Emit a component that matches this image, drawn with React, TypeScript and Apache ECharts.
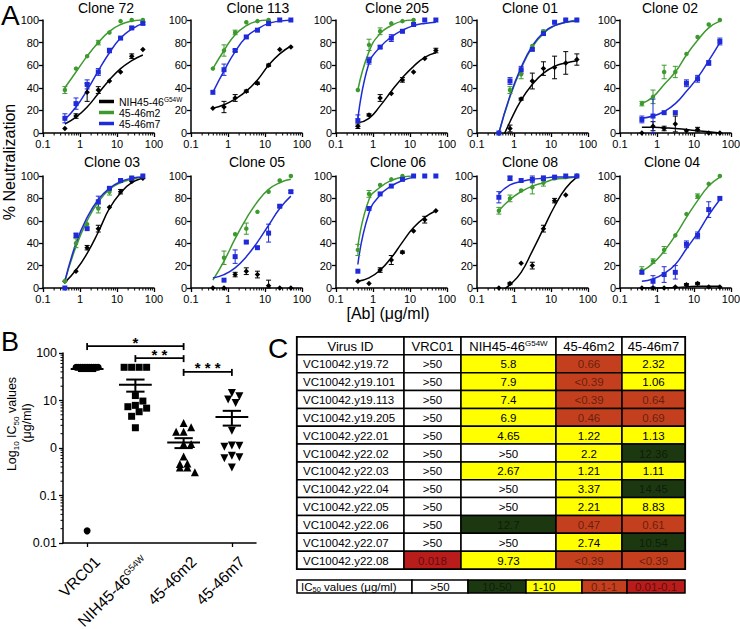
import React, { useEffect, useRef } from "react";
import * as echarts from "echarts";

const FONT = "'Liberation Sans', Arial, Helvetica, sans-serif";

// ---------------- Panel A data ----------------
const conc = [0.39, 0.78, 1.56, 3.125, 6.25, 12.5, 25, 50];
const antibodies = ["NIH45-46G54W", "45-46m2", "45-46m7"];
const cloneTitles = ["Clone 72", "Clone 113", "Clone 205", "Clone 01", "Clone 02", "Clone 03", "Clone 05", "Clone 06", "Clone 08", "Clone 04"];
const xTickLabels = ["0.1", "1", "10", "100"];

// each clone: [NIH45-46G54W, 45-46m2, 45-46m7]
const c72Pts = [[4, 15, 36, 38, 46, 54, 68, 74], [38, 57, 68, 80, 89, 99, 100, 100], [13, 26, 43, 54, 73, 84, 93, 97]];
const c72Err = [[0, 2, 8, 3, 0, 0, 2, 0], [3, 0, 0, 2, 0, 0, 0, 0], [4, 5, 4, 3, 2, 1, 1, 1]];
const c72Fit = [[8, 14, 23, 35, 47, 57, 64, 69], [40, 54, 68, 80, 90, 96, 99, 100], [12, 23, 38, 55, 71, 84, 92, 97]];

const c113Pts = [[22, 23, 31, 37, 44, 60, 74, 76], [57, 73, 89, 98, 99, 100, null, null], [36, 56, 73, 85, 91, 97, 100, 100]];
const c113Err = [[0, 5, 3, 1, 1, 1, 0, 0], [0, 5, 2, 0, 0, 0, 0, 0], [0, 5, 1, 1, 1, 2, 0, 0]];
const c113Fit = [[22, 25, 30, 37, 47, 60, 70, 77], [57, 73, 87, 95, 99, 100, null, null], [36, 55, 72, 85, 92, 97, 99, 100]];

const c205Pts = [[6, 16, 31, 35, 47, 54, 66, 73], [38, 78, 90, 97, 99, 100, null, null], [11, 64, 76, 84, 90, 96, 100, 100]];
const c205Err = [[2, 1, 3, 0, 2, 0, 0, 2], [0, 5, 3, 0, 0, 0, 0, 0], [5, 3, 1, 3, 1, 1, 0, 0]];
const c205Fit = [[9, 13, 24, 37, 49, 59, 67, 71], [38, 72, 88, 95, 99, 100, null, null], [12, 62, 76, 85, 91, 95, 97, 98]];

const c01Pts = [[0, 4, 30, 46, 57, 58, 62, 65], [0, 38, 52, 77, 90, 98, 100, 100], [0, 46, 56, 74, 88, 98, 100, 100]];
const c01Err = [[0, 3, 1, 7, 6, 10, 10, 5], [0, 3, 4, 0, 1, 0, 0, 0], [0, 3, 3, 1, 1, 0, 0, 0]];
const c01Fit = [[-12, 10, 29, 43, 53, 59, 62, 64], [0, 32, 57, 76, 88, 95, 98, 100], [0, 33, 58, 77, 89, 95, 98, 99]];

const c02Pts = [[0, 6, 4, 8, 2, 3, 0, 0], [26, 32, 54, 54, 70, 85, 96, 100], [12, 15, 18, 18, 44, 48, 62, 81]];
const c02Err = [[0, 4, 2, 7, 0, 2, 0, 0], [2, 6, 6, 5, 0, 0, 0, 0], [3, 15, 0, 0, 3, 3, 2, 3]];
const c02Fit = [[5, 5, 4.5, 4, 3, 2, 1, 0], [26, 32, 43, 54, 69, 82, 93, 99], [13, 15, 19, 26, 37, 49, 64, 80]];

const c03Pts = [[6, 15, 36, 53, 72, 86, 95, 98], [6, 40, 57, 71, 86, 96, 98, 100], [0, 47, 53, 77, 89, 96, 98, 100]];
const c03Err = [[0, 0, 2, 3, 0, 2, 0, 0], [0, 4, 0, 4, 3, 0, 2, 0], [0, 2, 0, 5, 1, 1, 1, 0]];
const c03Fit = [[5, 16, 31, 50, 71, 85, 94, 98], [6, 37, 60, 77, 88, 94, 97, 99], [6, 40, 63, 79, 89, 95, 98, 99]];

const c05Pts = [[0, 0, 12, 15, 12, 2, 0, 0], [null, 27, 48, 53, 68, 86, 96, 100], [null, 7, 28, 41, 36, 49, 73, 86]];
const c05Err = [[0, 0, 2, 3, 3, 5, 0, 0], [0, 6, 0, 5, 0, 0, 0, 0], [0, 0, 6, 1, 0, 8, 1, 1]];
const c05Fit = [null, [7, 24, 44, 62, 77, 88, 94, 97], [9, 12, 18, 28, 41, 56, 71, 82]];

const c06Pts = [[6, 4, 16, 25, 32, 51, 61, 69], [34, 84, 92, 97, 100, null, null, null], [15, 71, 84, 91, 97, 100, 100, 100]];
const c06Err = [[0, 0, 2, 4, 1, 0, 3, 0], [5, 3, 0, 0, 0, 0, 0, 0], [0, 0, 0, 0, 0, 0, 0, 0]];
const c06Fit = [[6, 9, 16, 27, 41, 54, 63, 69], [37, 79, 90, 96, 99, 100, null, null], [21, 67, 83, 91, 96, 99, null, null]];

const c08Pts = [[0, 4, 22, 20, 53, 78, 83, 100], [69, 80, 87, 90, 94, 98, 99, 100], [81, 98, 96, 97, 98, 99, 100, 100]];
const c08Err = [[0, 1, 0, 3, 3, 2, 0, 0], [3, 3, 0, 6, 3, 0, 0, 0], [5, 2, 0, 3, 2, 0, 0, 0]];
const c08Fit = [[-4, 3, 14, 33, 53, 73, 89, 99], [69, 79, 86, 91, 94, 97, 98, 99], [84, 92, 95, 97, 98, 99, 99, 99]];

const c04Pts = [[0, 0, 0, 1, 3, 4, 1, 1], [16, 24, 34, 47, 66, 82, 93, 100], [14, 6, 12, 14, 39, 47, 70, 80]];
const c04Err = [[0, 0, 0, 0, 1, 1, 0, 0], [3, 2, 3, 0, 0, 2, 0, 0], [0, 5, 7, 6, 3, 3, 7, 0]];
const c04Fit = [[0, 0, 0.2, 0.5, 1, 1.5, 1.5, 1.5], [15, 22, 33, 47, 63, 78, 91, 99], [6, 8, 13, 21, 35, 49, 65, 79]];

const clonePts = [c72Pts, c113Pts, c205Pts, c01Pts, c02Pts, c03Pts, c05Pts, c06Pts, c08Pts, c04Pts];
const cloneErr = [c72Err, c113Err, c205Err, c01Err, c02Err, c03Err, c05Err, c06Err, c08Err, c04Err];
const cloneFit = [c72Fit, c113Fit, c205Fit, c01Fit, c02Fit, c03Fit, c05Fit, c06Fit, c08Fit, c04Fit];

// ---------------- Panel B data ----------------
const bCats = ["VRC01", "NIH45-46G54W", "45-46m2", "45-46m7"];
const bVrc01 = [50, 50, 50, 50, 50, 50, 50, 50, 50, 50, 50, 0.018];
const bNih = [5.8, 7.9, 7.4, 6.9, 4.65, 50, 2.67, 50, 50, 12.7, 50, 9.73];
const bM2 = [0.66, 0.39, 0.39, 0.46, 1.22, 2.2, 1.21, 3.37, 2.21, 0.47, 2.74, 0.31];
const bM7 = [2.32, 1.06, 0.64, 0.69, 1.13, 12.36, 1.11, 14.45, 8.83, 0.61, 10.54, 0.39];
const bYTickLabels = ["0.01", "0.1", "0", "10", "100"];
const bSigPairs = [[0, 2], [1, 2], [2, 3]];
const bSigStars = ["*", "* *", "* * *"];

// ---------------- Panel C data ----------------
const tableHeaders = ["Virus ID", "VRC01", "NIH45-46G54W", "45-46m2", "45-46m7"];
const virusIds = ["VC10042.y19.72", "VC10042.y19.101", "VC10042.y19.113", "VC10042.y19.205", "VC10042.y22.01", "VC10042.y22.02", "VC10042.y22.03", "VC10042.y22.04", "VC10042.y22.05", "VC10042.y22.06", "VC10042.y22.07", "VC10042.y22.08"];
const vrc01Ic50 = [">50", ">50", ">50", ">50", ">50", ">50", ">50", ">50", ">50", ">50", ">50", "0.018"];
const nihIc50 = ["5.8", "7.9", "7.4", "6.9", "4.65", ">50", "2.67", ">50", ">50", "12.7", ">50", "9.73"];
const m2Ic50 = ["0.66", "<0.39", "<0.39", "0.46", "1.22", "2.2", "1.21", "3.37", "2.21", "0.47", "2.74", "<0.39"];
const m7Ic50 = ["2.32", "1.06", "0.64", "0.69", "1.13", "12.36", "1.11", "14.45", "8.83", "0.61", "10.54", "<0.39"];
const legendLabels = ["IC50 values (μg/ml)", ">50", "10-50", "1-10", "0.1-1", "0.01-0.1"];

// ---------------- layout / styles ----------------
const AB_COLORS = ["#000000", "#3d9a2e", "#1f2bd8"];
const AB_SYMBOLS = ["diamond", "circle", "rect"];
const AB_SYMSIZE = [5.5, 4.5, 5];
const A_LEFT = [43, 191, 336, 477, 620];
const A_TOP = [20, 176];
const A_H = [113, 112];
const A_W = 111;
const A_TITLE_X = [[106, 258, 397, 530, 670], [112, 257, 398, 530, 672]];
const A_TITLE_Y = [8, 162];

const B_GRID = { left: 63, top: 353, width: 193, height: 190 };
const B_SIG_LEVEL = [140, 78, 40];
const B_LABEL_SHIFT = [10, 16];

const C_GRID = { left: 297, top: 337, width: 388, height: 232 };
const C_COL_PX = [0, 107, 164, 259, 325, 388];
const C_LEG_X = [297, 412, 468, 526, 582, 627, 685];
const C_LEG_TEXT_X = [301, 440, 497, 544, 604, 656];
const C_LEG_Y = 580;
const C_LEG_H = 13;

const WHITE = "#ffffff";
const GREEN = "#1c3811";
const YELLOW = "#ffff00";
const RED1 = "#c43f1d";
const RED2 = "#b81c1b";
const DIM = "rgba(0,0,0,0.5)";

function cellColor(t: string): string {
  if (t.startsWith(">")) return WHITE;
  const v = t.startsWith("<") ? parseFloat(t.slice(1)) : parseFloat(t);
  if (v >= 10) return GREEN;
  if (v >= 1) return YELLOW;
  if (v >= 0.1) return RED1;
  return RED2;
}

function supName(n: string) {
  if (n === "NIH45-46G54W") return "{a|NIH45-46}{s|G54W}";
  return `{a|${n}}`;
}

function meanSem(arr: number[]) {
  const n = arr.length;
  const m = arr.reduce((s, v) => s + v, 0) / n;
  const sd = Math.sqrt(arr.reduce((s, v) => s + (v - m) * (v - m), 0) / (n - 1));
  const se = sd / Math.sqrt(n);
  return [m, m - se, m + se];
}

// simple beeswarm: horizontal offsets (in category units)
function swarm(values: number[], pxPerDecade: number, pxPerCat: number, d: number, maxHalf: number) {
  const offsets = new Array(values.length).fill(0);
  const placed: { x: number; y: number }[] = [];
  const groups = new Map<number, number[]>();
  values.forEach((v, i) => {
    if (!groups.has(v)) groups.set(v, []);
    groups.get(v)!.push(i);
  });
  const keys = Array.from(groups.keys()).sort((a, b) => b - a);
  for (const v of keys) {
    const idx = groups.get(v)!;
    const y = Math.log10(v) * pxPerDecade;
    if (idx.length > 1) {
      const step = Math.min(d, (2 * maxHalf) / (idx.length - 1));
      idx.forEach((i, j) => {
        const x = (j - (idx.length - 1) / 2) * step;
        offsets[i] = x / pxPerCat;
        placed.push({ x, y });
      });
    } else {
      const cands = [0];
      for (let m = 1; m < 10; m++) cands.push((m * d) / 2, (-m * d) / 2);
      let best = 0;
      for (const x of cands) {
        if (placed.every((p) => Math.hypot(p.x - x, p.y - y) >= d * 0.95)) {
          best = x;
          break;
        }
      }
      offsets[idx[0]] = best / pxPerCat;
      placed.push({ x: best, y });
    }
  }
  return offsets;
}

function buildOption() {
  const grids: any[] = [];
  const xAxes: any[] = [];
  const yAxes: any[] = [];
  const series: any[] = [];
  const graphics: any[] = [];
  const axisLine = { show: true, onZero: false, lineStyle: { color: "#000", width: 1.5 } };
  const axisTick = { show: true, length: 4, lineStyle: { color: "#000", width: 1.3 } };

  const minorX: number[] = [];
  for (const dec of [0.1, 1, 10]) for (let m = 2; m <= 9; m++) minorX.push(+(m * dec).toFixed(4));

  for (let i = 0; i < 10; i++) {
    const row = Math.floor(i / 5);
    const col = i % 5;
    grids.push({ left: A_LEFT[col], top: A_TOP[row], width: A_W, height: A_H[row], outerBoundsMode: "none" });
    xAxes.push({
      type: "log", logBase: 10, gridIndex: i, min: 0.1, max: 100,
      axisLine, axisTick,
      axisLabel: {
        fontSize: 11, color: "#000", fontFamily: FONT, margin: 5, showMinLabel: true, showMaxLabel: true,
        formatter: (v: number) => xTickLabels[Math.round(Math.log10(v)) + 1],
      },
      splitLine: { show: false }, minorTick: { show: false },
    });
    yAxes.push({
      type: "value", gridIndex: i, min: 0, max: 100, interval: 20,
      axisLine, axisTick,
      axisLabel: { fontSize: 11, color: "#000", fontFamily: FONT, margin: 4, showMinLabel: true, showMaxLabel: true },
      splitLine: { show: false },
    });
    graphics.push({
      type: "text", x: A_TITLE_X[row][col], y: A_TITLE_Y[row],
      style: { text: cloneTitles[i], align: "center", verticalAlign: "middle", fontSize: 14, fontFamily: FONT, fill: "#000" },
    });
    // minor log ticks
    series.push({
      type: "custom", xAxisIndex: i, yAxisIndex: i, silent: true, clip: false,
      data: minorX.map((v) => [v, 0]),
      renderItem: (p: any, api: any) => {
        const pt = api.coord([api.value(0), 0]);
        return { type: "line", shape: { x1: pt[0], y1: pt[1], x2: pt[0], y2: pt[1] + 2.5 }, style: { stroke: "#000", lineWidth: 1 } };
      },
    });
    for (let k = 0; k < 3; k++) {
      const color = AB_COLORS[k];
      const fit = cloneFit[i][k];
      if (fit) {
        series.push({
          type: "line", name: antibodies[k], xAxisIndex: i, yAxisIndex: i,
          data: conc.map((c, j) => [c, fit[j]]).filter((d) => d[1] != null),
          smooth: 0.5, showSymbol: false, symbol: "none", clip: true,
          lineStyle: { color, width: 1.5 }, itemStyle: { color }, z: 2, silent: true,
        });
      }
      const pts = clonePts[i][k];
      const err = cloneErr[i][k];
      series.push({
        type: "scatter", name: antibodies[k], xAxisIndex: i, yAxisIndex: i,
        data: conc.map((c, j) => [c, pts[j]]).filter((d) => d[1] != null),
        symbol: AB_SYMBOLS[k], symbolSize: AB_SYMSIZE[k], itemStyle: { color, opacity: 1 }, z: 3, silent: true,
      });
      series.push({
        type: "custom", xAxisIndex: i, yAxisIndex: i, silent: true, z: 3,
        data: conc.map((c, j) => [c, pts[j], err[j]]).filter((d) => d[1] != null && (d[2] as number) > 0),
        renderItem: (p: any, api: any) => {
          const x = api.value(0), y = api.value(1), e = api.value(2);
          const top = api.coord([x, y + e]);
          const bot = api.coord([x, Math.max(y - e, 0)]);
          const w = 2.5;
          const st = { stroke: color, lineWidth: 1 };
          return {
            type: "group",
            children: [
              { type: "line", shape: { x1: top[0], y1: top[1], x2: bot[0], y2: bot[1] }, style: st },
              { type: "line", shape: { x1: top[0] - w, y1: top[1], x2: top[0] + w, y2: top[1] }, style: st },
              { type: "line", shape: { x1: bot[0] - w, y1: bot[1], x2: bot[0] + w, y2: bot[1] }, style: st },
            ],
          };
        },
      });
    }
  }

  // ---------------- Panel B ----------------
  const bg = 10;
  grids.push({ ...B_GRID, outerBoundsMode: "none" });
  xAxes.push({
    type: "category", gridIndex: bg, data: bCats,
    axisLine, axisTick: { ...axisTick, alignWithLabel: true },
    axisLabel: { show: false },
  });
  xAxes.push({ type: "value", gridIndex: bg, min: -0.5, max: 3.5, show: false });
  yAxes.push({
    type: "log", logBase: 10, gridIndex: bg, min: 0.01, max: 100,
    axisLine, axisTick,
    axisLabel: {
      fontSize: 12.5, color: "#000", fontFamily: FONT, margin: 6, showMinLabel: true, showMaxLabel: true,
      formatter: (v: number) => bYTickLabels[Math.round(Math.log10(v)) + 2],
    },
    splitLine: { show: false },
  });
  const bxi = 11, byi = 10;
  const minorB: number[] = [];
  for (const dec of [0.01, 0.1, 1, 10]) for (let m = 2; m <= 9; m++) minorB.push(+(m * dec).toFixed(5));
  series.push({
    type: "custom", xAxisIndex: bxi, yAxisIndex: byi, silent: true, clip: false,
    data: minorB.map((v) => [-0.5, v]),
    renderItem: (p: any, api: any) => {
      const pt = api.coord([-0.5, api.value(1)]);
      return { type: "line", shape: { x1: pt[0], y1: pt[1], x2: pt[0] - 2.5, y2: pt[1] }, style: { stroke: "#000", lineWidth: 1 } };
    },
  });
  // rotated category labels (placed through the axis scale)
  series.push({
    type: "custom", xAxisIndex: bxi, yAxisIndex: byi, silent: true, clip: false,
    data: bCats.map((c, i) => [i, 0.01]),
    renderItem: (p: any, api: any) => {
      const pt = api.coord([api.value(0), 0.01]);
      return {
        type: "text", x: pt[0] + B_LABEL_SHIFT[0], y: pt[1] + B_LABEL_SHIFT[1], rotation: Math.PI / 4,
        style: {
          text: supName(bCats[p.dataIndex]), align: "right", verticalAlign: "middle",
          rich: {
            a: { fontSize: 15.5, fontFamily: FONT, fill: "#000" },
            s: { fontSize: 9, fontFamily: FONT, fill: "#000", verticalAlign: "top" },
          },
        },
      };
    },
  });
  const bGroups = [bVrc01, bNih, bM2, bM7];
  const bSym = ["circle", "rect", "triangle", "triangle"];
  const bSymSize = [7, 7, 8, 8];
  const bRot = [0, 0, 0, 180];
  bGroups.forEach((vals, gi) => {
    const offs = swarm(vals, 47.5, 48.25, 7.5, gi === 0 ? 11 : 14);
    series.push({
      type: "scatter", xAxisIndex: bxi, yAxisIndex: byi, silent: true, z: 3,
      data: vals.map((v, j) => [gi + offs[j], v]),
      symbol: bSym[gi], symbolSize: bSymSize[gi], symbolRotate: bRot[gi], itemStyle: { color: "#000", opacity: 1 },
    });
  });
  series.push({
    type: "custom", xAxisIndex: bxi, yAxisIndex: byi, silent: true, z: 4,
    data: bGroups.map((vals, gi) => [gi, ...meanSem(vals)]),
    renderItem: (p: any, api: any) => {
      const g = api.value(0);
      const m = api.coord([g, api.value(1)]);
      const lo = api.coord([g, api.value(2)]);
      const hi = api.coord([g, api.value(3)]);
      const xl = api.coord([g - 0.34, 1])[0], xr = api.coord([g + 0.34, 1])[0];
      const sl = api.coord([g - 0.19, 1])[0], sr = api.coord([g + 0.19, 1])[0];
      const st = { stroke: "#000", lineWidth: 2 };
      return {
        type: "group",
        children: [
          { type: "line", shape: { x1: xl, y1: m[1], x2: xr, y2: m[1] }, style: st },
          { type: "line", shape: { x1: sl, y1: lo[1], x2: sr, y2: lo[1] }, style: st },
          { type: "line", shape: { x1: sl, y1: hi[1], x2: sr, y2: hi[1] }, style: st },
          { type: "line", shape: { x1: m[0], y1: lo[1], x2: m[0], y2: hi[1] }, style: st },
        ],
      };
    },
  });
  series.push({
    type: "custom", xAxisIndex: bxi, yAxisIndex: byi, silent: true, clip: false, z: 4,
    data: bSigPairs.map((pr, i) => [pr[0], B_SIG_LEVEL[i], pr[1], i]),
    renderItem: (p: any, api: any) => {
      const a = api.coord([api.value(0), api.value(1)]);
      const b = api.coord([api.value(2), api.value(1)]);
      const st = { stroke: "#000", lineWidth: 1.8 };
      return {
        type: "group",
        children: [
          { type: "line", shape: { x1: a[0], y1: a[1], x2: b[0], y2: b[1] }, style: st },
          { type: "line", shape: { x1: a[0], y1: a[1] - 3, x2: a[0], y2: a[1] + 4 }, style: st },
          { type: "line", shape: { x1: b[0], y1: b[1] - 3, x2: b[0], y2: b[1] + 4 }, style: st },
          {
            type: "text", x: (a[0] + b[0]) / 2, y: a[1] - 4,
            style: { text: bSigStars[api.value(3)], align: "center", verticalAlign: "middle", fontSize: 15, fontWeight: "bold", fontFamily: FONT, fill: "#000" },
          },
        ],
      };
    },
  });

  // ---------------- Panel C (table) ----------------
  const cg = 11;
  grids.push({ ...C_GRID, outerBoundsMode: "none" });
  xAxes.push({ type: "value", gridIndex: cg, min: 0, max: 1, show: false });
  yAxes.push({ type: "category", gridIndex: cg, data: ["header", ...virusIds], inverse: true, show: false });
  const tableCols = [virusIds, vrc01Ic50, nihIc50, m2Ic50, m7Ic50];
  const colFrac = C_COL_PX.map((v) => v / C_COL_PX[C_COL_PX.length - 1]);
  const tableData: number[][] = [];
  for (let r = 0; r <= virusIds.length; r++) for (let c = 0; c < 5; c++) tableData.push([0.5, r, c]);
  series.push({
    type: "custom", xAxisIndex: 12, yAxisIndex: 11, silent: true, clip: false,
    data: tableData,
    renderItem: (p: any, api: any) => {
      const r = api.value(1), c = api.value(2);
      const a = api.coord([colFrac[c], r]);
      const b = api.coord([colFrac[c + 1], r]);
      const h = api.size([0, 1])[1];
      let text: string, fill = WHITE, tf = "#000", fs = 11.5;
      let align = "center", tx = (a[0] + b[0]) / 2;
      if (r === 0) {
        text = supName(tableHeaders[c]);
        fs = 13;
      } else {
        const t = tableCols[c][r - 1];
        text = `{a|${t}}`;
        if (c > 0) {
          fill = cellColor(t);
          if (fill === GREEN || fill === RED1 || fill === RED2) tf = DIM;
        } else {
          align = "left";
          tx = a[0] + 6;
        }
      }
      return {
        type: "group",
        children: [
          { type: "rect", shape: { x: a[0], y: a[1] - h / 2, width: b[0] - a[0], height: h }, style: { fill, stroke: "#000", lineWidth: 1.5 } },
          {
            type: "text", x: tx, y: a[1] + 0.5,
            style: {
              text, align, verticalAlign: "middle",
              rich: {
                a: { fontSize: fs, fontFamily: FONT, fill: tf },
                s: { fontSize: 8, fontFamily: FONT, fill: tf, verticalAlign: "top" },
              },
            },
          },
        ],
      };
    },
  });

  // table outer border
  graphics.push({ type: "rect", shape: { x: C_GRID.left, y: C_GRID.top, width: C_GRID.width, height: C_GRID.height }, style: { fill: "none", stroke: "#000", lineWidth: 2.2 } });

  // colour key row
  const legFills = [WHITE, WHITE, GREEN, YELLOW, RED1, RED2];
  legendLabels.forEach((lab, i) => {
    graphics.push({
      type: "rect", shape: { x: C_LEG_X[i], y: C_LEG_Y, width: C_LEG_X[i + 1] - C_LEG_X[i], height: C_LEG_H },
      style: { fill: legFills[i], stroke: "#000", lineWidth: 1.5 },
    });
    const dim = legFills[i] === GREEN || legFills[i] === RED1 || legFills[i] === RED2;
    graphics.push({
      type: "text", x: C_LEG_TEXT_X[i], y: C_LEG_Y + C_LEG_H / 2 + 0.5,
      style: {
        text: i === 0 ? "{a|IC}{s|50}{a| values (μg/ml)}" : `{a|${lab}}`,
        align: i === 0 ? "left" : "center", verticalAlign: "middle",
        rich: {
          a: { fontSize: 11.5, fontFamily: FONT, fill: dim ? DIM : "#000" },
          s: { fontSize: 7.5, fontFamily: FONT, fill: "#000", verticalAlign: "bottom" },
        },
      },
    });
  });

  // panel letters and axis titles
  graphics.push({ type: "text", x: 1, y: 15, style: { text: "A", fontSize: 28, fontFamily: FONT, fill: "#000", verticalAlign: "middle" } });
  graphics.push({ type: "text", x: 1, y: 342, style: { text: "B", fontSize: 27, fontFamily: FONT, fill: "#000", verticalAlign: "middle" } });
  graphics.push({ type: "text", x: 268, y: 348, style: { text: "C", fontSize: 28, fontFamily: FONT, fill: "#000", verticalAlign: "middle" } });
  graphics.push({ type: "text", x: 9, y: 162, rotation: Math.PI / 2, style: { text: "% Neutralization", align: "center", verticalAlign: "middle", fontSize: 16, fontFamily: FONT, fill: "#000" } });
  graphics.push({ type: "text", x: 388, y: 313, style: { text: "[Ab] (μg/ml)", align: "center", verticalAlign: "middle", fontSize: 16, fontFamily: FONT, fill: "#000" } });
  graphics.push({
    type: "text", x: 12, y: 424, rotation: Math.PI / 2,
    style: {
      text: "{n|Log}{s|10}{n| IC}{s|50}{n| values}", align: "center", verticalAlign: "middle",
      rich: {
        n: { fontSize: 12.5, fontFamily: FONT, fill: "#000", lineHeight: 16 },
        s: { fontSize: 8, fontFamily: FONT, fill: "#000", verticalAlign: "bottom" },
      },
    },
  });
  graphics.push({ type: "text", x: 27, y: 423, rotation: Math.PI / 2, style: { text: "(μg/ml)", align: "center", verticalAlign: "middle", fontSize: 12.5, fontFamily: FONT, fill: "#000" } });

  return {
    animation: false,
    backgroundColor: "#ffffff",
    textStyle: { fontFamily: FONT },
    grid: grids,
    xAxis: xAxes,
    yAxis: yAxes,
    legend: {
      data: antibodies, orient: "vertical", left: 99, top: 96, padding: 0,
      itemWidth: 15, itemHeight: 3.5, itemGap: 0, icon: "rect", selectedMode: false,
      formatter: (n: string) => supName(n),
      textStyle: {
        color: "#000", fontFamily: FONT,
        rich: {
          a: { fontSize: 10.5, color: "#000", fontFamily: FONT },
          s: { fontSize: 6.5, color: "#000", fontFamily: FONT, verticalAlign: "top" },
        },
      },
    },
    series,
    graphic: { elements: graphics },
  };
}

export default function App() {
  const ref = useRef<HTMLDivElement>(null);
  useEffect(() => {
    document.body.style.margin = "0";
    const chart = echarts.init(ref.current!, null, { renderer: "svg" });
    chart.setOption(buildOption() as any);
    return () => chart.dispose();
  }, []);
  return <div ref={ref} style={{ width: 740, height: 629, background: "#fff" }} />;
}
